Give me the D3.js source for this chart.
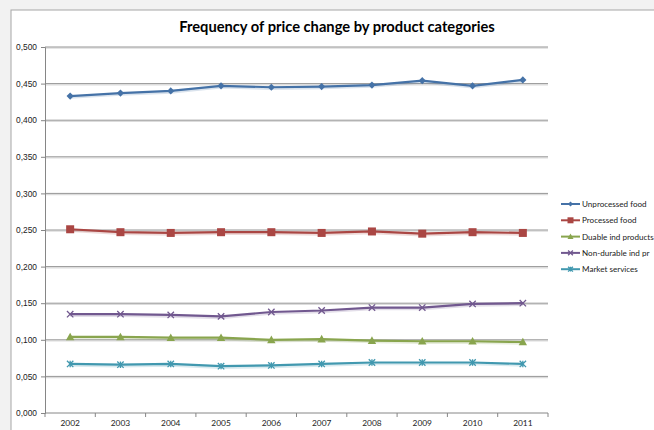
<!DOCTYPE html>
<html>
<head>
<meta charset="utf-8">
<script src="https://cdn.jsdelivr.net/npm/d3@7"></script>
<style>
  body { margin: 0; background: #f2f2f2; }
  svg { display: block; font-family: Lato, "Open Sans", sans-serif; }
</style>
</head>
<body>
<div id="chart"></div>
<script>
// data
var years = ["2002", "2003", "2004", "2005", "2006", "2007", "2008", "2009", "2010", "2011"];
var unprocessedFood = [0.433, 0.437, 0.440, 0.447, 0.445, 0.446, 0.448, 0.454, 0.447, 0.455];
var processedFood = [0.251, 0.247, 0.246, 0.247, 0.247, 0.246, 0.248, 0.245, 0.247, 0.246];
var durableInd = [0.104, 0.104, 0.103, 0.103, 0.100, 0.101, 0.099, 0.098, 0.098, 0.097];
var nonDurableInd = [0.135, 0.135, 0.134, 0.132, 0.138, 0.140, 0.144, 0.144, 0.149, 0.150];
var marketServices = [0.067, 0.066, 0.067, 0.064, 0.065, 0.067, 0.069, 0.069, 0.069, 0.067];
var yTicks = [0, 0.05, 0.1, 0.15, 0.2, 0.25, 0.3, 0.35, 0.4, 0.45, 0.5];

var series = [
  { name: "Unprocessed food", values: unprocessedFood, color: "#4572a7", marker: "diamond" },
  { name: "Processed food", values: processedFood, color: "#aa4643", marker: "square" },
  { name: "Duable ind products", values: durableInd, color: "#89a54e", marker: "triangle" },
  { name: "Non-durable ind pr", values: nonDurableInd, color: "#71588f", marker: "x" },
  { name: "Market services", values: marketServices, color: "#4198af", marker: "star" }
];

var svgWidth = 654;
var svgHeight = 430;
var margin = { top: 47, right: 106, bottom: 17, left: 45 };
var width = svgWidth - margin.left - margin.right;
var height = svgHeight - margin.top - margin.bottom;

var svg = d3.select("#chart")
  .append("svg")
  .attr("width", svgWidth)
  .attr("height", svgHeight);

// chart frame
svg.append("rect")
  .attr("x", 11)
  .attr("y", 10)
  .attr("width", 660)
  .attr("height", 440)
  .attr("fill", "#fff")
  .attr("stroke", "#a6a6a6")
  .attr("stroke-width", 1);

svg.append("text")
  .attr("x", 337)
  .attr("y", 32)
  .attr("text-anchor", "middle")
  .style("font-size", "14.7px")
  .style("font-weight", "bold")
  .text("Frequency of price change by product categories");

var chart = svg.append("g")
  .attr("transform", "translate(" + margin.left + "," + margin.top + ")");

var xBand = d3.scaleBand().domain(years).range([0, width]);
var xScale = function (d) { return xBand(d) + xBand.bandwidth() / 2; };
var yScale = d3.scaleLinear().domain([0, 0.5]).range([height, 0]);

var fmt = function (d) { return d3.format(".3f")(d).replace(".", ","); };

// gridlines with a soft shadow
var grid = chart.append("g");
grid.selectAll(".shadow")
  .data(yTicks.slice(1))
  .enter()
  .append("line")
  .attr("x1", 0).attr("x2", width)
  .attr("y1", function (d) { return yScale(d) + 1.2; })
  .attr("y2", function (d) { return yScale(d) + 1.2; })
  .attr("stroke", "#dcdcdc")
  .attr("stroke-width", 1.2);
grid.selectAll(".line")
  .data(yTicks.slice(1))
  .enter()
  .append("line")
  .attr("x1", 0).attr("x2", width)
  .attr("y1", function (d) { return yScale(d); })
  .attr("y2", function (d) { return yScale(d); })
  .attr("stroke", "#959595")
  .attr("stroke-width", 1);

// y axis
var leftAxis = d3.axisLeft(yScale).tickValues(yTicks).tickFormat(fmt).tickSize(4).tickPadding(4);
var yAxis = chart.append("g").call(leftAxis);
yAxis.select(".domain").attr("stroke", "#868686");
yAxis.selectAll(".tick line").attr("stroke", "#868686");
yAxis.selectAll("text").style("font-size", "8.4px").attr("fill", "#222");

// x axis: ticks at band boundaries
var xAxis = chart.append("g").attr("transform", "translate(0," + height + ")");
xAxis.append("line")
  .attr("x1", 0).attr("x2", width)
  .attr("stroke", "#868686");
xAxis.selectAll(".xt")
  .data(d3.range(years.length + 1))
  .enter()
  .append("line")
  .attr("x1", function (i) { return i * xBand.bandwidth(); })
  .attr("x2", function (i) { return i * xBand.bandwidth(); })
  .attr("y1", 0).attr("y2", 4)
  .attr("stroke", "#868686");
xAxis.selectAll("text")
  .data(years)
  .enter()
  .append("text")
  .attr("x", function (d) { return xScale(d); })
  .attr("y", 13)
  .attr("text-anchor", "middle")
  .style("font-size", "8.4px")
  .attr("fill", "#222")
  .text(function (d) { return d; });

function drawMarker(g, type, color, size) {
  var s = size;
  if (type === "diamond") {
    g.append("path").attr("d", "M0," + (-s) + "L" + s + ",0L0," + s + "L" + (-s) + ",0Z").attr("fill", color);
  } else if (type === "square") {
    g.append("rect").attr("x", -s).attr("y", -s).attr("width", 2 * s).attr("height", 2 * s).attr("fill", color);
  } else if (type === "triangle") {
    g.append("path").attr("d", "M0," + (-s) + "L" + s + "," + (s * 0.8) + "L" + (-s) + "," + (s * 0.8) + "Z").attr("fill", color);
  } else if (type === "x") {
    g.append("path").attr("d", "M" + (-s) + "," + (-s) + "L" + s + "," + s + "M" + (-s) + "," + s + "L" + s + "," + (-s))
      .attr("stroke", color).attr("stroke-width", 1.3).attr("fill", "none");
  } else if (type === "star") {
    g.append("path").attr("d", "M" + (-s) + "," + (-s) + "L" + s + "," + s + "M" + (-s) + "," + s + "L" + s + "," + (-s) + "M0," + (-s) + "L0," + s)
      .attr("stroke", color).attr("stroke-width", 1.3).attr("fill", "none");
  }
}

var line = d3.line()
  .x(function (d, i) { return xScale(years[i]); })
  .y(function (d) { return yScale(d); });

series.forEach(function (s) {
  // faint shadow
  chart.append("path")
    .attr("d", line(s.values))
    .attr("transform", "translate(0,1.5)")
    .attr("fill", "none")
    .attr("stroke", s.color)
    .attr("stroke-opacity", 0.2)
    .attr("stroke-width", 2.5);
  chart.append("path")
    .attr("d", line(s.values))
    .attr("fill", "none")
    .attr("stroke", s.color)
    .attr("stroke-width", 2.2);
  var sizes = { diamond: 3.6, square: 4, triangle: 4.2, x: 3.2, star: 3.2 };
  s.values.forEach(function (v, i) {
    var g = chart.append("g")
      .attr("transform", "translate(" + xScale(years[i]) + "," + yScale(v) + ")");
    drawMarker(g, s.marker, s.color, sizes[s.marker]);
  });
});

// legend
var legend = svg.append("g").attr("transform", "translate(561,204)");
series.forEach(function (s, i) {
  var row = legend.append("g").attr("transform", "translate(0," + (i * 16.3) + ")");
  row.append("line")
    .attr("x1", 0).attr("x2", 19)
    .attr("stroke", s.color)
    .attr("stroke-width", 2);
  var m = row.append("g").attr("transform", "translate(9.5,0)");
  var ls = { diamond: 2.6, square: 3, triangle: 3, x: 2.4, star: 2.4 };
  drawMarker(m, s.marker, s.color, ls[s.marker]);
  row.append("text")
    .attr("x", 21)
    .attr("y", 3)
    .style("font-size", "8.1px")
    .attr("fill", "#222")
    .text(s.name);
});
</script>
</body>
</html>
